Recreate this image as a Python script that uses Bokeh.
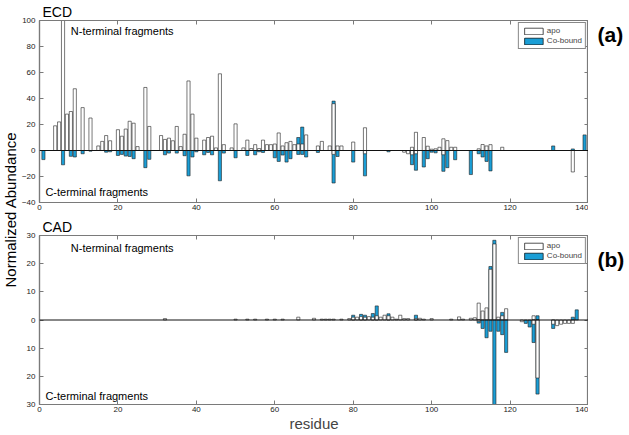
from bokeh.plotting import figure
from bokeh.layouts import row, column
from bokeh.models import (Range1d, LinearAxis, Label, Span, Legend, LegendItem,
                          FixedTicker, CustomJSTickFormatter)
from bokeh.embed import file_html
from bokeh.resources import INLINE
import math

# ---------------- data (residue, normalized abundance) ----------------
x_ticks = [0, 20, 40, 60, 80, 100, 120, 140]
ecd_y_ticks = [-40, -20, 0, 20, 40, 60, 80, 100]
cad_y_ticks = [-30, -20, -10, 0, 10, 20, 30]

# ECD, N-terminal fragments (positive)
ecd_apo_n = [(4, 19), (5, 22), (6, 115), (7, 28), (8, 30), (9, 47.5), (11, 33), (13, 25),
             (15, 3.5), (16, 7), (17, 11.5), (18, 7.5), (20, 16), (21, 11), (22, 16.5),
             (23, 22.5), (24, 21), (25, 3), (27, 48.5), (28, 18.5), (31, 11.5), (32, 8.5),
             (33, 9.5), (34, 7.5), (35, 18.5), (36, 3), (37, 12.5), (38, 53.5), (39, 28),
             (40, 9.5), (42, 8), (43, 10), (44, 11), (45, 2), (46, 59), (47, 4.5), (49, 2),
             (50, 20.5), (52, 2), (53, 8), (54, 1.5), (55, 4.5), (56, 1.5), (57, 8), (58, 4.5),
             (59, 4.5), (60, 5), (61, 13.5), (62, 3.5), (63, 6), (64, 7), (65, 4.5), (66, 5),
             (67, 5), (68, 12), (71, 3.5), (72, 7), (74, 3.5), (75, 36), (76, 3.5), (77, 3.5),
             (80, 6.5), (83, 17.5), (95, 2.5), (96, 14), (98, 10), (99, 3.3),
             (100, 1), (101, 1.3), (102, 2.5), (103, 9), (104, 7.6), (105, 2.5), (106, 2.5),
             (112, 1.3), (113, 4.6), (114, 3.5), (115, 4.5), (118, 2.5)]
ecd_co_n = [(66, 10), (67, 18), (75, 38), (131, 3.5), (136, 1.2), (139, 12)]
# ECD, C-terminal fragments (negative)
ecd_co_c = [(1, -7), (6, -11), (8, -4.5), (9, -5), (11, -2.5), (13, -0.5), (17, -1.3),
            (18, -1), (20, -3.8), (21, -3), (22, -4.3), (23, -4.6), (24, -6.3), (27, -13.2),
            (28, -6.8), (32, -3.3), (33, -2), (35, -2), (37, -4), (38, -19.5), (39, -5),
            (40, -1), (42, -3.3), (43, -1.5), (44, -3.3), (46, -23.3), (47, -2), (50, -5.6),
            (53, -3.8), (55, -3.3), (56, -1), (57, -1.5), (60, -5.6), (61, -8.4), (62, -3.5),
            (63, -8.9), (64, -6.3), (66, -3), (67, -3), (68, -5), (71, -1.5), (75, -25),
            (76, -4.6), (80, -8.9), (83, -19.5), (89, -1), (95, -10.9), (96, -15.2),
            (98, -12.7), (99, -6.3), (100, -1.3), (101, -1.8), (103, -16),
            (104, -13.2), (106, -7.1), (110, -18.5), (112, -2.5), (113, -5), (114, -8.4),
            (115, -15.7)]
ecd_apo_c = [(75, -3), (83, -2.5), (93, -1.3), (94, -2.5), (95, -3.3), (96, -2.5),
             (103, -3.3), (136, -16.5)]

# CAD
cad_apo_n = [(32, 0.5), (50, 0.3), (53, 0.3), (55, 0.3), (58, 0.3), (60, 0.3), (62, 0.3),
             (66, 1), (70, 0.6), (72, 0.3), (73, 0.3), (74, 0.3), (75, 0.3), (77, 0.3),
             (79, 0.5), (80, 1), (81, 1), (82, 1.2), (83, 1), (84, 1.2), (85, 1), (86, 1.5),
             (87, 1), (88, 1.7), (89, 1.5), (90, 1), (91, 0.3), (92, 1.7), (93, 0.5),
             (94, 0.5), (96, 0.5), (97, 0.6), (98, 0.3), (100, 0.5), (105, 0.3), (107, 1.1),
             (108, 0.3), (110, 0.6), (111, 0.8), (112, 6), (113, 3.2), (114, 4.3), (115, 18),
             (116, 27), (117, 1), (118, 1.5), (119, 4), (126, 1.5)]
cad_co_n = [(80, 1.7), (82, 2), (83, 1.7), (85, 2.3), (86, 5), (89, 2.2), (96, 1.7),
            (115, 19), (116, 28.3), (118, 2.7), (127, 1.5), (136, 1), (137, 3.6)]
cad_co_c = [(112, -1.1), (113, -3), (114, -6.3), (115, -4), (116, -35), (117, -4),
            (118, -5.2), (119, -11.5), (124, -1.2), (125, -2.5), (126, -8), (127, -26.3),
            (131, -3)]
cad_apo_c = [(112, -0.5), (123, -0.6), (126, -1.5), (127, -20.6), (131, -1.5), (132, -2),
             (133, -1.5), (134, -1.2), (135, -1.2), (136, -1.2)]

# ---------------- styling ----------------
FONT = "Liberation Sans"
BLUE = "#1A9ED6"
GRAY = "#7a7a7a"
BAR_W = 0.8
LAB_W = 18
MAIN_W = 570
TAG_W = 629 - LAB_W - MAIN_W
TOP_H, BOT_H = 214, 220


def split(pairs):
    return [p[0] for p in pairs], [p[1] for p in pairs]


def panel(height, y_lo, y_hi, y_ticks, border_top, border_bottom, abs_labels, series,
          name, n_y, c_y, show_xlabel):
    p = figure(width=MAIN_W, height=height, x_range=Range1d(0, 140), y_range=Range1d(y_lo, y_hi),
               output_backend="svg", toolbar_location=None,
               min_border_left=17, min_border_right=0,
               min_border_top=border_top, min_border_bottom=border_bottom,
               outline_line_color=GRAY, outline_line_width=1.2,
               background_fill_color="white", border_fill_color="white")
    p.xgrid.visible = False
    p.ygrid.visible = False
    p.title.text = name
    p.title.align = "left"
    p.title.offset = 3
    p.title.standoff = 2
    p.title.text_font = FONT
    p.title.text_font_size = "14px"
    p.title.text_font_style = "normal"
    p.title.text_color = "black"

    for ax in (p.xaxis[0], p.yaxis[0]):
        ax.major_tick_in = 4
        ax.major_tick_out = 0
        ax.minor_tick_line_color = None
        ax.axis_line_color = GRAY
        ax.axis_line_width = 1.2
        ax.major_tick_line_color = GRAY
        ax.major_label_text_font = FONT
        ax.major_label_text_font_size = "8px"
        ax.major_label_text_color = "#222222"
    p.xaxis[0].major_label_standoff = 2
    p.yaxis[0].major_label_standoff = 4
    p.xaxis[0].ticker = FixedTicker(ticks=x_ticks)
    p.yaxis[0].ticker = FixedTicker(ticks=y_ticks)
    if abs_labels:
        p.yaxis[0].formatter = CustomJSTickFormatter(code="return Math.abs(tick).toString();")
    if show_xlabel:
        p.xaxis[0].axis_label = "residue"
        p.xaxis[0].axis_label_text_font = FONT
        p.xaxis[0].axis_label_text_font_size = "15px"
        p.xaxis[0].axis_label_text_font_style = "normal"
        p.xaxis[0].axis_label_standoff = 0

    # mirrored axes with inward ticks and no labels
    blank = CustomJSTickFormatter(code="return '';")
    top = LinearAxis(ticker=FixedTicker(ticks=x_ticks), formatter=blank,
                     major_tick_in=4, major_tick_out=0, minor_tick_line_color=None,
                     axis_line_color=GRAY, major_tick_line_color=GRAY, major_label_standoff=0)
    right = LinearAxis(ticker=FixedTicker(ticks=y_ticks), formatter=blank,
                       major_tick_in=4, major_tick_out=0, minor_tick_line_color=None,
                       axis_line_color=GRAY, major_tick_line_color=GRAY, major_label_standoff=0)
    p.add_layout(top, "above")
    p.add_layout(right, "right")

    apo_n, co_n, co_c, apo_c = series
    rs = {}
    for key, pairs, fill in (("co_n", co_n, BLUE), ("apo_n", apo_n, "white"),
                             ("co_c", co_c, BLUE), ("apo_c", apo_c, "white")):
        xs, vs = split(pairs)
        rs[key] = p.vbar(x=xs, top=vs, bottom=0, width=BAR_W, fill_color=fill,
                         line_color="#1e1e1e", line_width=0.6)

    p.add_layout(Span(location=0, dimension="width", line_color="#111111", line_width=1))

    legend = Legend(items=[LegendItem(label="apo", renderers=[rs["apo_n"], rs["apo_c"]]),
                           LegendItem(label="Co-bound", renderers=[rs["co_n"], rs["co_c"]])],
                    location="top_right", margin=2, padding=3, spacing=1,
                    glyph_width=23, glyph_height=8, label_height=9, label_standoff=2,
                    label_text_font=FONT, label_text_font_size="8px",
                    border_line_color="#111111", border_line_width=0.8,
                    background_fill_color="white", background_fill_alpha=1.0)
    p.add_layout(legend)

    p.add_layout(Label(x=8.0, y=n_y, text="N-terminal fragments", text_font=FONT,
                       text_font_size="11px", text_baseline="middle", text_color="black"))
    p.add_layout(Label(x=1.5, y=c_y, text="C-terminal fragments", text_font=FONT,
                       text_font_size="11px", text_baseline="middle", text_color="black"))
    return p


def text_strip(width, height, text, x, y_from_top, size, style, angle=0.0, align="left"):
    f = figure(width=width, height=height, x_range=Range1d(0, width), y_range=Range1d(0, height),
               output_backend="svg", toolbar_location=None, x_axis_location=None,
               y_axis_location=None, outline_line_color=None, min_border=0,
               background_fill_color="white", border_fill_color="white")
    f.xgrid.visible = False
    f.ygrid.visible = False
    f.add_layout(Label(x=x, y=height - y_from_top, text=text, angle=angle,
                       text_align=align, text_baseline="middle", text_font=FONT,
                       text_font_size=size, text_font_style=style, text_color="black"))
    return f


top_fig = panel(TOP_H, -40, 100, ecd_y_ticks, 19, 12, False,
                (ecd_apo_n, ecd_co_n, ecd_co_c, ecd_apo_c),
                "ECD", 92.3, -31.6, False)
bot_fig = panel(BOT_H, -30, 30, cad_y_ticks, 21, 27, True,
                (cad_apo_n, cad_co_n, cad_co_c, cad_apo_c),
                "CAD", 25.4, -26.9, True)

ylab = text_strip(LAB_W, TOP_H + BOT_H, "Normalized Abundance", 9.5, 209, "15px", "normal",
                  angle=math.pi / 2, align="center")
tag_a = text_strip(TAG_W, TOP_H, "(a)", 9, 34, "21px", "bold")
tag_b = text_strip(TAG_W, BOT_H, "(b)", 9, 45, "21px", "bold")

layout = row(ylab, column(top_fig, bot_fig, spacing=0), column(tag_a, tag_b, spacing=0),
             spacing=0)
open("out.html", "w").write(file_html(layout, INLINE))
